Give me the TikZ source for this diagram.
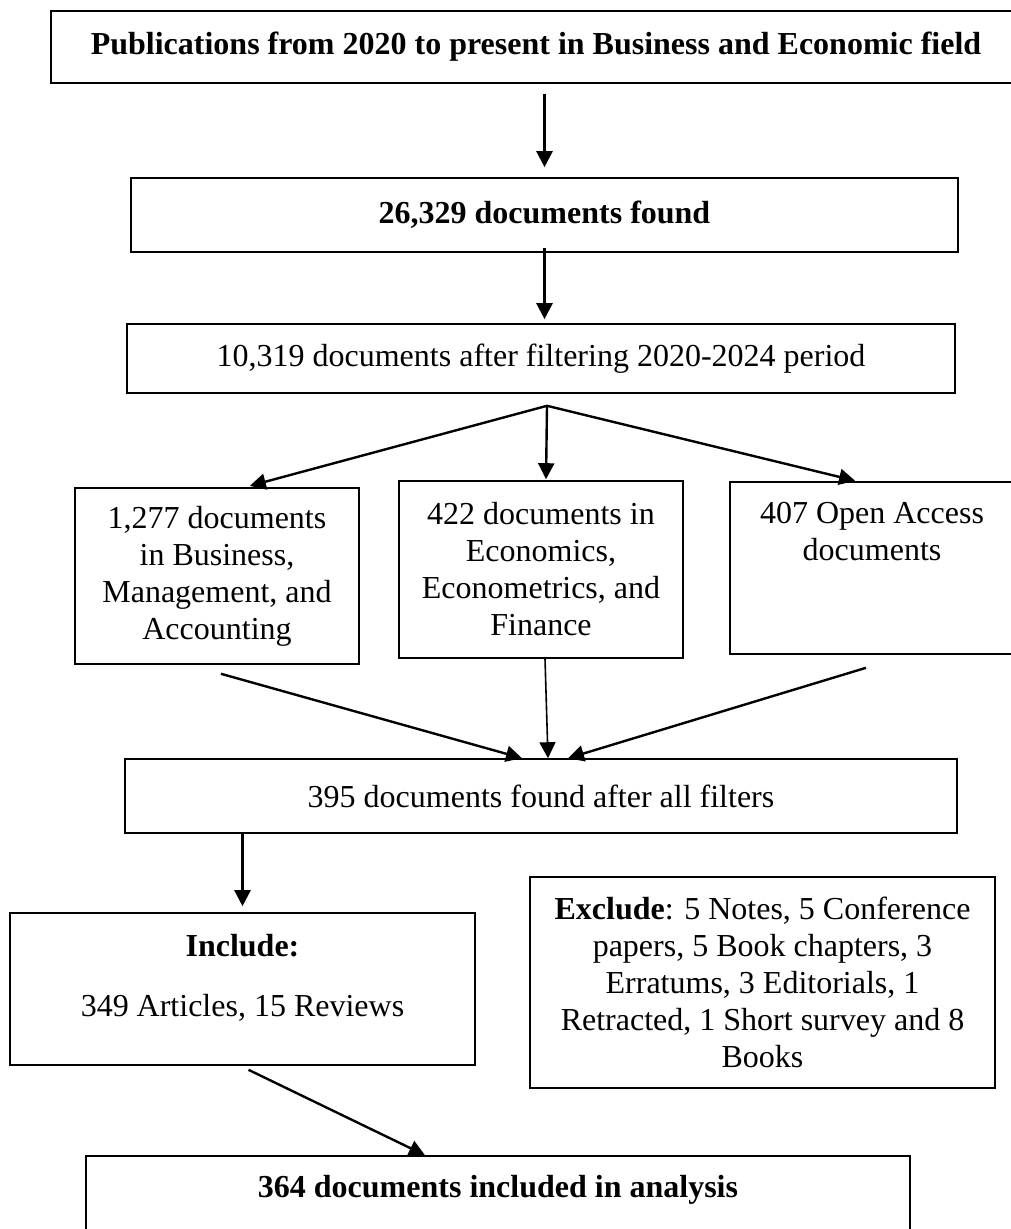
\documentclass[tikz,border=0pt]{standalone}
\usepackage{fontspec}
\setmainfont{Liberation Serif}
\usetikzlibrary{arrows.meta}

\begin{document}
\begin{tikzpicture}[x=0.5pt,y=-0.5pt,
  box/.style={draw,line width=0.8pt,align=center,inner sep=0pt,font=\fontsize{16}{18.5}\selectfont},
  arr/.style={-{Triangle[length=8pt,width=8pt]},line width=1.2pt}]
  \useasboundingbox (0,0) rectangle (1010,1229);
  \node[box,minimum width=485pt,minimum height=36pt] (pub) at (536,47)
    {\textbf{Publications from 2020 to present in Business and Economic field}};
  \node[box,minimum width=413.5pt,minimum height=37pt] (found) at (544.5,215)
    {\textbf{26,329 documents found}};
  \node[box,minimum width=414pt,minimum height=34.5pt] (period) at (541,358.5)
    {10,319 documents after filtering 2020-2024 period};
  \node[box,minimum width=142pt,minimum height=88pt] (bma) at (217,576)
    {1,277 documents\\in Business,\\Management, and\\Accounting};
  \node[box,minimum width=142pt,minimum height=88.5pt] (eef) at (541,569.5)
    {422 documents in\\Economics,\\Econometrics, and\\Finance};
  \node[box,minimum width=142pt,minimum height=86pt] (oa) at (872,568)
    {407 Open Access\\documents\\\mbox{}\\\mbox{}};
  \node[box,minimum width=416pt,minimum height=37pt] (all) at (541,796)
    {395 documents found after all filters};
  \node[box,minimum width=232.5pt,minimum height=76pt] (incl) at (242.5,989)
    {\textbf{Include:}\\[11.5pt]349 Articles, 15 Reviews\\[-4.5pt]\mbox{}};
  \node[box,minimum width=232.5pt,minimum height=105.5pt] (excl) at (762.5,982.5)
    {\textbf{Exclude}: 5 Notes, 5 Conference\\papers, 5 Book chapters, 3\\Erratums, 3 Editorials, 1\\Retracted, 1 Short survey and 8\\Books};
  \node[box,minimum width=412pt,minimum height=42pt] (final) at (498,1198)
    {\textbf{364 documents included in analysis}\\[-7pt]\mbox{}};

  \draw[arr,shorten <=5pt,shorten >=5pt] (pub.south -| found.north) -- (found.north);
  \draw[arr,shorten <=-2.5pt,shorten >=2pt] (found.south) -- (found.south |- period.north);
  \coordinate (split) at ([xshift=3pt,yshift=-6pt]period.south);
  \draw[arr,shorten >=2.5pt] (split) -- ([xshift=14pt]bma.north);
  \draw[arr,shorten >=0.5pt] (split) -- ([xshift=2.5pt]eef.north);
  \draw[arr,shorten >=1pt] (split) -- ([xshift=-7.5pt]oa.north);
  \draw[arr] ([xshift=2pt,yshift=-4.5pt]bma.south) -- ([xshift=-9.5pt]all.north);
  \draw[arr,line width=0.8pt] ([xshift=2pt]eef.south) -- ([xshift=3.5pt]all.north);
  \draw[arr] ([xshift=-3pt,yshift=-6.5pt]oa.south) -- ([xshift=13.5pt]all.north);
  \draw[arr,shorten >=3pt] (all.south -| incl.north) -- (incl.north);
  \draw[arr] ([xshift=3pt,yshift=-2pt]incl.south) -- ([xshift=-36.5pt]final.north);
\end{tikzpicture}
\end{document}
